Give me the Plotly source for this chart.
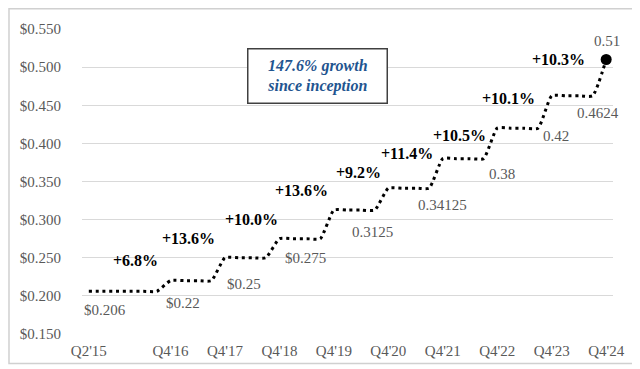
import plotly.graph_objects as go

# ---- data ----
quarters = ["Q2'15", "Q3'15", "Q4'15", "Q1'16", "Q2'16", "Q3'16",
            "Q4'16", "Q1'17", "Q2'17", "Q3'17",
            "Q4'17", "Q1'18", "Q2'18", "Q3'18",
            "Q4'18", "Q1'19", "Q2'19", "Q3'19",
            "Q4'19", "Q1'20", "Q2'20", "Q3'20",
            "Q4'20", "Q1'21", "Q2'21", "Q3'21",
            "Q4'21", "Q1'22", "Q2'22", "Q3'22",
            "Q4'22", "Q1'23", "Q2'23", "Q3'23",
            "Q4'23", "Q1'24", "Q2'24", "Q3'24",
            "Q4'24"]
dividend = [0.206, 0.206, 0.206, 0.206, 0.206, 0.206,
            0.22, 0.22, 0.22, 0.22,
            0.25, 0.25, 0.25, 0.25,
            0.275, 0.275, 0.275, 0.275,
            0.3125, 0.3125, 0.3125, 0.3125,
            0.34125, 0.34125, 0.34125, 0.34125,
            0.38, 0.38, 0.38, 0.38,
            0.42, 0.42, 0.42, 0.42,
            0.4624, 0.4624, 0.4624, 0.4624,
            0.51]
tick_labels = ["Q2'15", "Q4'16", "Q4'17", "Q4'18", "Q4'19", "Q4'20",
               "Q4'21", "Q4'22", "Q4'23", "Q4'24"]
value_labels = ["$0.206", "$0.22", "$0.25", "$0.275", "0.3125", "0.34125",
                "0.38", "0.42", "0.4624", "0.51"]
y_ticks = [0.15, 0.20, 0.25, 0.30, 0.35, 0.40, 0.45, 0.50, 0.55]
callout = "147.6% growth<br>since inception"

# ---- label placement (pixel offsets from the anchoring point) ----
value_offsets = [(-7, -19), (-7, -22), (0, -26), (4, -19), (16, -22),
                 (28, -17), (44, -15), (44, -8), (23, -17), (-14, 19)]
pct_offsets = [(-11, 20), (-8, 19), (1, 19), (-4, 20), (-5, 16),
               (-8, 5), (-9, -7), (-15, -3), (-19, 0)]

FONT = "Liberation Serif"
GREY = "#595959"

fig = go.Figure()
fig.add_trace(go.Scatter(
    x=quarters, y=dividend, mode="lines",
    line=dict(color="black", width=3, dash="3px,3.8px", shape="spline", smoothing=0.5),
    hoverinfo="skip", showlegend=False,
))
fig.add_trace(go.Scatter(
    x=quarters[-1:], y=dividend[-1:], mode="markers",
    marker=dict(size=11, color="black", opacity=1, line=dict(width=0)),
    hoverinfo="skip", showlegend=False,
))

annotations = []
# value labels anchored at each tick (step) quarter
for q, lbl, (dx, dy) in zip(tick_labels, value_labels, value_offsets):
    v = dividend[quarters.index(q)]
    annotations.append(dict(
        x=q, y=v, xref="x", yref="y", text=lbl, showarrow=False,
        xanchor="left", yanchor="middle", xshift=dx, yshift=dy,
        font=dict(family=FONT, size=15, color=GREY),
    ))

# growth percentage labels
for k in range(1, len(tick_labels)):
    q = tick_labels[k]
    v1 = dividend[quarters.index(q)]
    v0 = dividend[quarters.index(tick_labels[k - 1])]
    pct = (v1 / v0 - 1) * 100
    dx, dy = pct_offsets[k - 1]
    annotations.append(dict(
        x=q, y=v1, xref="x", yref="y", text=f"<b>+{pct:.1f}%</b>",
        showarrow=False, xanchor="right", yanchor="middle",
        xshift=dx, yshift=dy,
        font=dict(family=FONT, size=16, color="black"),
    ))

# callout box
annotations.append(dict(
    x=0.4444, y=0.846, xref="paper", yref="paper",
    text=f"<b><i>{callout}</i></b>", showarrow=False,
    xanchor="center", yanchor="middle",
    width=134, height=49, borderpad=2,
    bordercolor="#404040", borderwidth=1.5, bgcolor="white",
    font=dict(family=FONT, size=16, color="#1F5590"),
))

# the page body adds an 8px offset, so the figure is shrunk by that amount
fig.update_layout(
    width=632, height=361,
    margin=dict(l=74, r=27, t=21, b=35, autoexpand=False),
    paper_bgcolor="white", plot_bgcolor="white",
    annotations=annotations,
    font=dict(family=FONT, size=15, color=GREY),
    shapes=[dict(type="rect", xref="paper", yref="paper",
                 x0=-0.1375, x1=1.0395, y0=-0.0967, y1=1.0664,
                 line=dict(color="#D0D0D0", width=1.5), layer="below")],
)
fig.update_xaxes(
    type="category", categoryorder="array", categoryarray=quarters,
    range=[-0.5, len(quarters) - 0.5], automargin=False,
    tickmode="array", tickvals=tick_labels, ticktext=tick_labels,
    showgrid=False, zeroline=False, showline=False, ticks="",
    ticklabelstandoff=6,
    tickfont=dict(family=FONT, size=15, color=GREY),
)
fig.update_yaxes(
    range=[0.15, 0.55], tickmode="array", tickvals=y_ticks, automargin=False,
    ticktext=[f"${t:.3f}" for t in y_ticks],
    showgrid=True, gridcolor="#D9D9D9", gridwidth=1.3,
    zeroline=False, showline=False, ticks="",
    ticklabelstandoff=20,
    tickfont=dict(family=FONT, size=15, color=GREY),
)

fig.write_html("out.html")
